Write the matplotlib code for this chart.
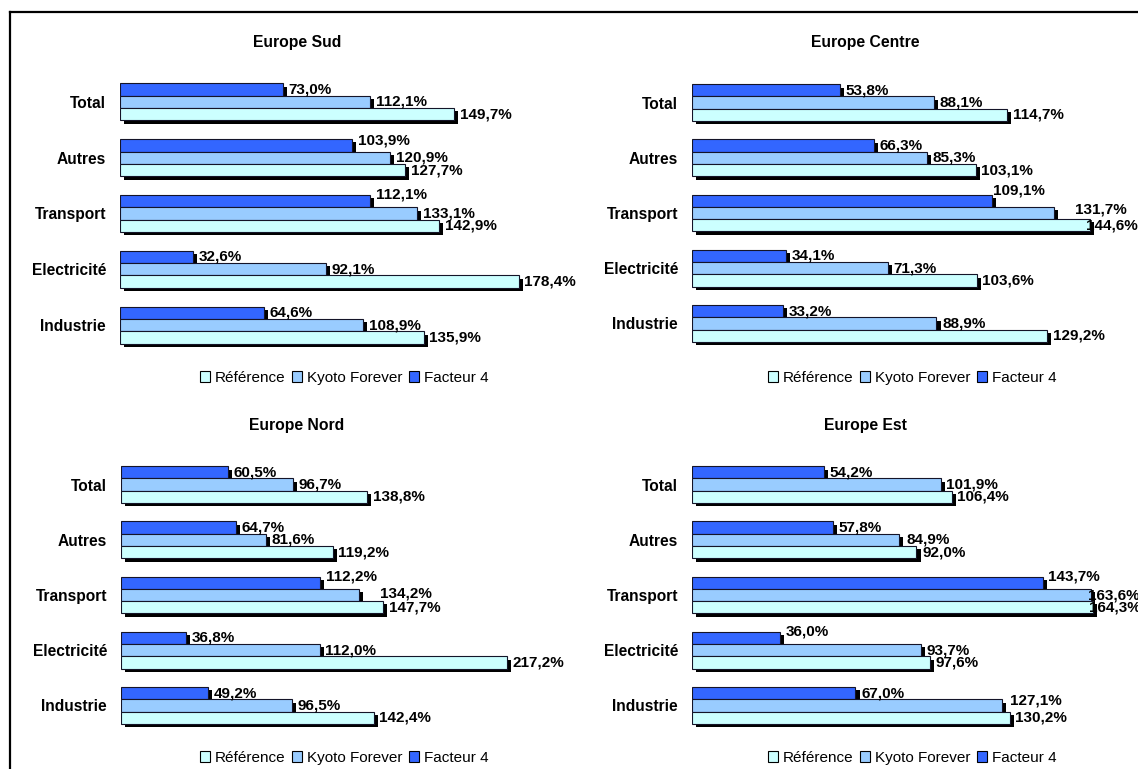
import matplotlib.pyplot as plt
import matplotlib.patheffects as pe
from matplotlib.patches import Patch
from matplotlib.lines import Line2D

plt.rcParams['font.family'] = ['Liberation Sans', 'DejaVu Sans']

# Categories from bottom to top
categories = ['Industrie', 'Electricité', 'Transport', 'Autres', 'Total']
series_names = ['Référence', 'Kyoto Forever', 'Facteur 4']
colors = ['#CCFFFF', '#99CCFF', '#3366FF']

# values per region, same order as categories
sud_ref = [135.9, 178.4, 142.9, 127.7, 149.7]
sud_kyoto = [108.9, 92.1, 133.1, 120.9, 112.1]
sud_f4 = [64.6, 32.6, 112.1, 103.9, 73.0]

centre_ref = [129.2, 103.6, 144.6, 103.1, 114.7]
centre_kyoto = [88.9, 71.3, 131.7, 85.3, 88.1]
centre_f4 = [33.2, 34.1, 109.1, 66.3, 53.8]

nord_ref = [142.4, 217.2, 147.7, 119.2, 138.8]
nord_kyoto = [96.5, 112.0, 134.2, 81.6, 96.7]
nord_f4 = [49.2, 36.8, 112.2, 64.7, 60.5]

est_ref = [130.2, 97.6, 164.3, 92.0, 106.4]
est_kyoto = [127.1, 93.7, 163.6, 84.9, 101.9]
est_f4 = [67.0, 36.0, 143.7, 57.8, 54.2]

W, H = 1138, 769
fig = plt.figure(figsize=(W / 100, H / 100), dpi=100)

# (title, data, axes box in pixels [left, top, right, bottom], xmax, title centre, legend centre)
panels = [
    ('Europe Sud', (sud_ref, sud_kyoto, sud_f4), (120, 74, 540, 353), 188.0, (297, 42), (344, 378)),
    ('Europe Centre', (centre_ref, centre_kyoto, centre_f4), (692, 75, 1110, 351), 152.0, (865, 42), (912, 378)),
    ('Europe Nord', (nord_ref, nord_kyoto, nord_f4), (121, 457, 540, 733), 236.0, (297, 425), (344, 758)),
    ('Europe Est', (est_ref, est_kyoto, est_f4), (692, 457, 1110, 733), 171.3, (865, 425), (912, 758)),
]

# hand-moved data labels in the original: (panel, category index, series index) -> (dx, dy) pixels
label_nudge = {
    ('Europe Sud', 3, 2): (0, 5), ('Europe Sud', 2, 2): (0, 7),
    ('Europe Centre', 2, 2): (-5, 10), ('Europe Centre', 2, 1): (15, 3), ('Europe Centre', 2, 0): (-9, 0),
    ('Europe Nord', 2, 2): (0, 6), ('Europe Nord', 2, 1): (15, 2),
    ('Europe Est', 2, 2): (0, 6), ('Europe Est', 2, 1): (-9, 0), ('Europe Est', 2, 0): (-9, 0),
    ('Europe Est', 1, 2): (0, 6), ('Europe Est', 0, 1): (2, 5), ('Europe Est', 3, 1): (2, 0),
}

h = 0.222
offsets = [-h, 0, h]
shadow = [pe.SimplePatchShadow(offset=(2.9, -2.4), shadow_rgbFace='black', alpha=1), pe.Normal()]

for title, data, box, xmax, tpos, lpos in panels:
    l, t, r, b = box
    ax = fig.add_axes([l / W, 1 - b / H, (r - l) / W, (b - t) / H])
    # draw top bar first so lower bars cover its shadow
    for i in [2, 1, 0]:
        ys = [k + offsets[i] for k in range(len(categories))]
        bars = ax.barh(ys, data[i], height=h, color=colors[i], edgecolor='#141428', linewidth=0.8)
        for k, (bar, v) in enumerate(zip(bars, data[i])):
            bar.set_path_effects(shadow)
            dx, dy = label_nudge.get((title, k, i), (0, 0))
            ax.annotate(f'{v:.1f}%'.replace('.', ','), (v, bar.get_y() + h / 2),
                        xytext=(4 + dx * 0.72, dy * 0.72), textcoords='offset points',
                        ha='left', va='center', fontsize=11, fontweight='bold')
    ax.set_xlim(0, xmax)
    ax.set_ylim(-0.5, len(categories) - 0.5)
    ax.set_yticks(range(len(categories)))
    ax.set_yticklabels(categories, fontsize=11.2, fontweight='bold')
    ax.tick_params(axis='y', length=0, pad=10)
    ax.set_xticks([])
    for s in ax.spines.values():
        s.set_visible(False)
    ax.patch.set_alpha(0)

    fig.text(tpos[0] / W, 1 - tpos[1] / H, title, ha='center', va='center',
             fontsize=11.3, fontweight='bold')
    handles = [Patch(facecolor=c, edgecolor='black', linewidth=0.8) for c in colors]
    fig.legend(handles, series_names, loc='center', ncol=3,
               bbox_to_anchor=(lpos[0] / W, 1 - lpos[1] / H), frameon=False,
               fontsize=11, handlelength=0.7, handleheight=0.7,
               handletextpad=0.3, columnspacing=0.4, borderpad=0)

# outer frame (cut at right and bottom)
fig.add_artist(Line2D([10 / W, 1], [1 - 12 / H, 1 - 12 / H], color='black', lw=1.6))
fig.add_artist(Line2D([10 / W, 10 / W], [0, 1 - 12 / H], color='black', lw=1.6))

fig.savefig('out.png', dpi=100)
